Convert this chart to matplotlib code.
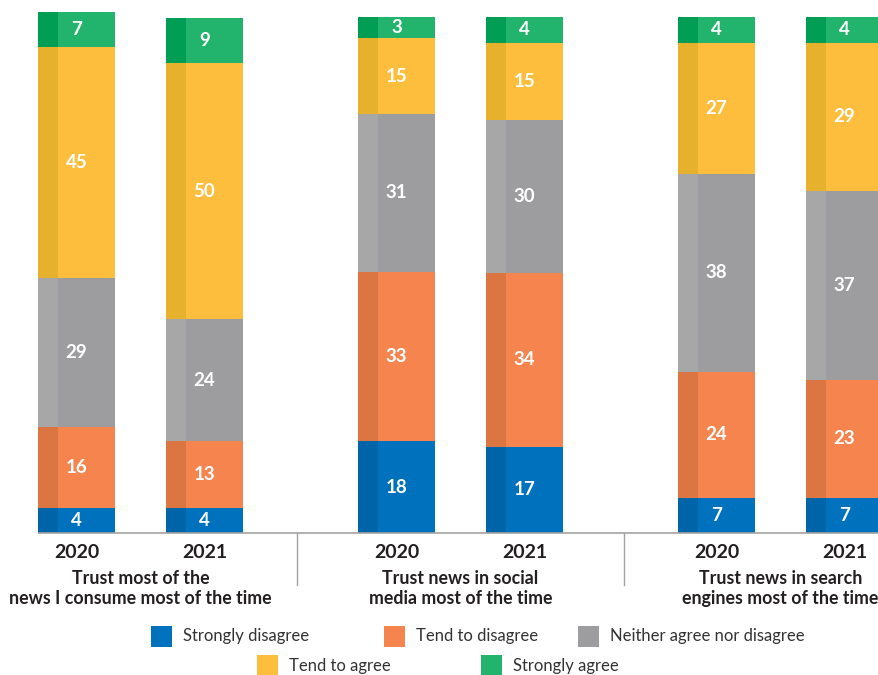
import matplotlib
matplotlib.use("Agg")
import matplotlib.pyplot as plt
from matplotlib.patches import Rectangle

# ---------------- data ----------------
categories = ["Trust most of the\nnews I consume most of the time",
              "Trust news in social\nmedia most of the time",
              "Trust news in search\nengines most of the time"]
years = ["2020", "2021", "2020", "2021", "2020", "2021"]
series = ["Strongly disagree", "Tend to disagree", "Neither agree nor disagree",
          "Tend to agree", "Strongly agree"]

# segment heights (% , estimated from the bar geometry)
strongly_disagree = [4.8, 4.8, 17.8, 16.7, 6.8, 6.8]
tend_to_disagree = [15.7, 13.0, 32.8, 33.7, 24.4, 22.9]
neither = [28.9, 23.6, 30.6, 29.7, 38.4, 36.6]
tend_to_agree = [44.8, 49.6, 14.7, 14.9, 25.4, 28.7]
strongly_agree = [6.8, 8.9, 4.1, 5.0, 5.0, 5.0]

# printed labels
lab_strongly_disagree = [4, 4, 18, 17, 7, 7]
lab_tend_to_disagree = [16, 13, 33, 34, 24, 23]
lab_neither = [29, 24, 31, 30, 38, 37]
lab_tend_to_agree = [45, 50, 15, 15, 27, 29]
lab_strongly_agree = [7, 9, 3, 4, 4, 4]

values = [strongly_disagree, tend_to_disagree, neither, tend_to_agree, strongly_agree]
labels = [lab_strongly_disagree, lab_tend_to_disagree, lab_neither,
          lab_tend_to_agree, lab_strongly_agree]

main_colors = ["#0071BC", "#F5844F", "#9D9D9F", "#FDBE3E", "#22B46C"]
strip_colors = ["#0065A8", "#DB7541", "#A7A7A7", "#E6B22E", "#009D55"]

# ---------------- layout ----------------
W, H = 879, 675
FONT = "Lato"
TXT = "#231F20"

fig = plt.figure(figsize=(W / 100, H / 100), dpi=100)
ax = fig.add_axes([0, 0, 1, 1])

positions = [0, 1, 2.5, 3.5, 5, 6]
unit_px = 128.0
x0_px = 76.5
y_scale = 5.16          # px per percent
base_px = 533.0

ax.set_xlim(-x0_px / unit_px, (W - x0_px) / unit_px)
ax.set_ylim(-(H - base_px) / y_scale, base_px / y_scale)
ax.axis("off")

bar_w = 77 / unit_px
strip_w = 20 / unit_px

bottoms = [0.0] * len(positions)
for vals, labs, mc, sc in zip(values, labels, main_colors, strip_colors):
    ax.bar(positions, vals, width=bar_w, bottom=bottoms, color=mc,
           linewidth=0, align="center")
    ax.bar([p - bar_w / 2 for p in positions], vals, width=strip_w,
           bottom=bottoms, color=sc, linewidth=0, align="edge")
    for p, v, b, l in zip(positions, vals, bottoms, labs):
        ax.text(p, b + v / 2, str(l), ha="center", va="center", color="white",
                fontsize=13.5, fontweight="bold", family=FONT)
    bottoms = [b + v for b, v in zip(bottoms, vals)]


def px_y(py):
    return (base_px - py) / y_scale


def px_x(px):
    return (px - x0_px) / unit_px


# baseline and separators
ax.plot([px_x(38), px_x(W)], [0, 0], color="#A3A3A3", lw=1.2,
        solid_capstyle="butt")
for sx in (297, 624):
    ax.plot([px_x(sx), px_x(sx)], [0, px_y(585)], color="#A3A3A3", lw=1.0)

# year labels
for p, yr in zip(positions, years):
    ax.text(p, px_y(552.5), yr, ha="center", va="center", color=TXT,
            fontsize=14, fontweight="bold", family=FONT)

# category labels
group_centers = [0.5, 3.0, 5.5]
for gc, cat in zip(group_centers, categories):
    ax.text(gc, px_y(588.5), cat, ha="center", va="center", color=TXT,
            fontsize=12.8, fontweight="bold", family=FONT, linespacing=1.18)

# legend (manual, two centered rows)
legend_pos = [(151, 636), (384, 636), (578, 636), (257, 666), (481, 666)]
for (lx, ly), name, col in zip(legend_pos, series, main_colors):
    fig.patches.append(Rectangle((lx / W, 1 - (ly + 10.5) / H), 21 / W, 21 / H,
                                 transform=fig.transFigure, color=col, lw=0))
    fig.text((lx + 32) / W, 1 - ly / H, name, ha="left", va="center",
             color="#333333", fontsize=12, family=FONT)

fig.savefig("out.png", dpi=100)
